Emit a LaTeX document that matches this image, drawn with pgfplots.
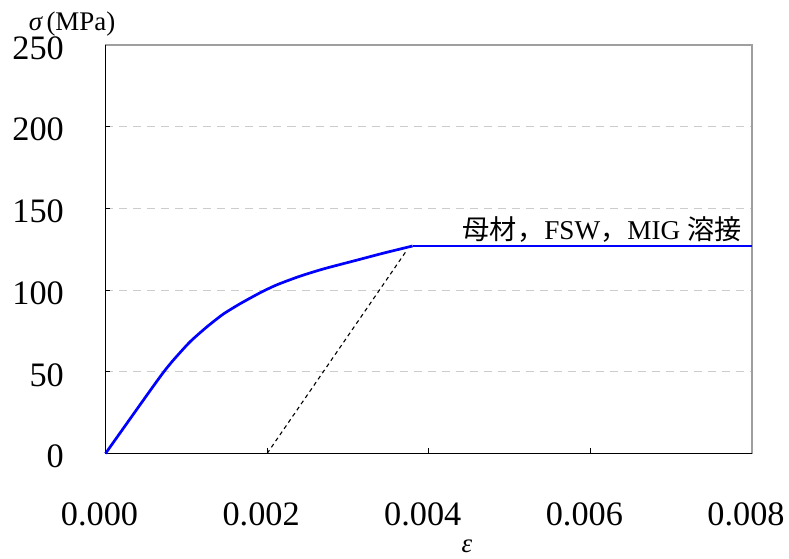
\documentclass[border=0pt]{standalone}
\usepackage{fontspec}
\setmainfont{Liberation Serif}
\newfontfamily\cjk{Noto Sans CJK JP}
\usepackage{pgfplots}
\pgfplotsset{compat=1.18}
\begin{document}
\begin{tikzpicture}
\path[use as bounding box] (-105.5bp,-105.5bp) rectangle (683.5bp,453.5bp);
\begin{axis}[
  at={(0,0)}, anchor=south west,
  scale only axis, width=646.5bp, height=408.5bp,
  xmin=0, xmax=0.008, ymin=0, ymax=250,
  xtick={0,0.002,0.004,0.006,0.008},
  ytick={0,50,100,150,200,250},
  scaled x ticks=false,
  x tick label style={/pgf/number format/fixed, /pgf/number format/fixed zerofill, /pgf/number format/precision=3},
  /pgf/number format/assume math mode=true,
  tick label style={font=\fontsize{34.4}{40}\selectfont, inner sep=0pt},
  xticklabel style={anchor=base, yshift=-71.5bp, xshift=-6bp},
  yticklabel style={anchor=east, xshift=-41.5bp, yshift=-3bp},
  tick align=inside, xtick pos=left, ytick pos=left,
  major tick length=5bp,
  tick style={black, line width=1bp},
  axis line style={draw=gray!75, line width=1.2bp},
  ymajorgrids,
  grid style={gray!40, line width=1bp, dash pattern=on 8bp off 6bp},
  clip=false,
]
\draw[black, line width=1.2bp] (rel axis cs:0,1) -- (rel axis cs:0,0) -- (rel axis cs:1,0);
\addplot[black, line width=1.1bp, dash pattern=on 4bp off 3.5bp] coordinates {(0.002,0) (0.00373,124.5)};
\addplot[blue, line width=2.7bp, smooth, tension=0.4] coordinates {
(0,0) (0.000528,36.8) (0.000714,49.5) (0.000837,57)
(0.001043,68.2) (0.00125,77.3) (0.001454,85.2) (0.00166,91.5)
(0.001907,98.2) (0.002114,103.1) (0.0024,108.4) (0.0027,113.0) (0.0031,118.2)
(0.00343,122.5) (0.0038,127)};
\addplot[blue, line width=2.7bp] coordinates {(0.0038,127) (0.008,127)};
\node[anchor=base east, xshift=-7bp, yshift=6bp, font=\fontsize{27.3}{30}\selectfont] at (axis cs:0.008,127) {{\cjk 母材，}FSW{\cjk ，}MIG {\cjk 溶接}};
\end{axis}
\node[anchor=base, font=\fontsize{27}{30}\selectfont] at (-33.5bp,422.5bp) {{\itshape σ}\,(MPa)};
\node[anchor=base, font=\fontsize{27}{30}\selectfont] at (361.5bp,-99bp) {{\itshape ε}};
\end{tikzpicture}
\end{document}
